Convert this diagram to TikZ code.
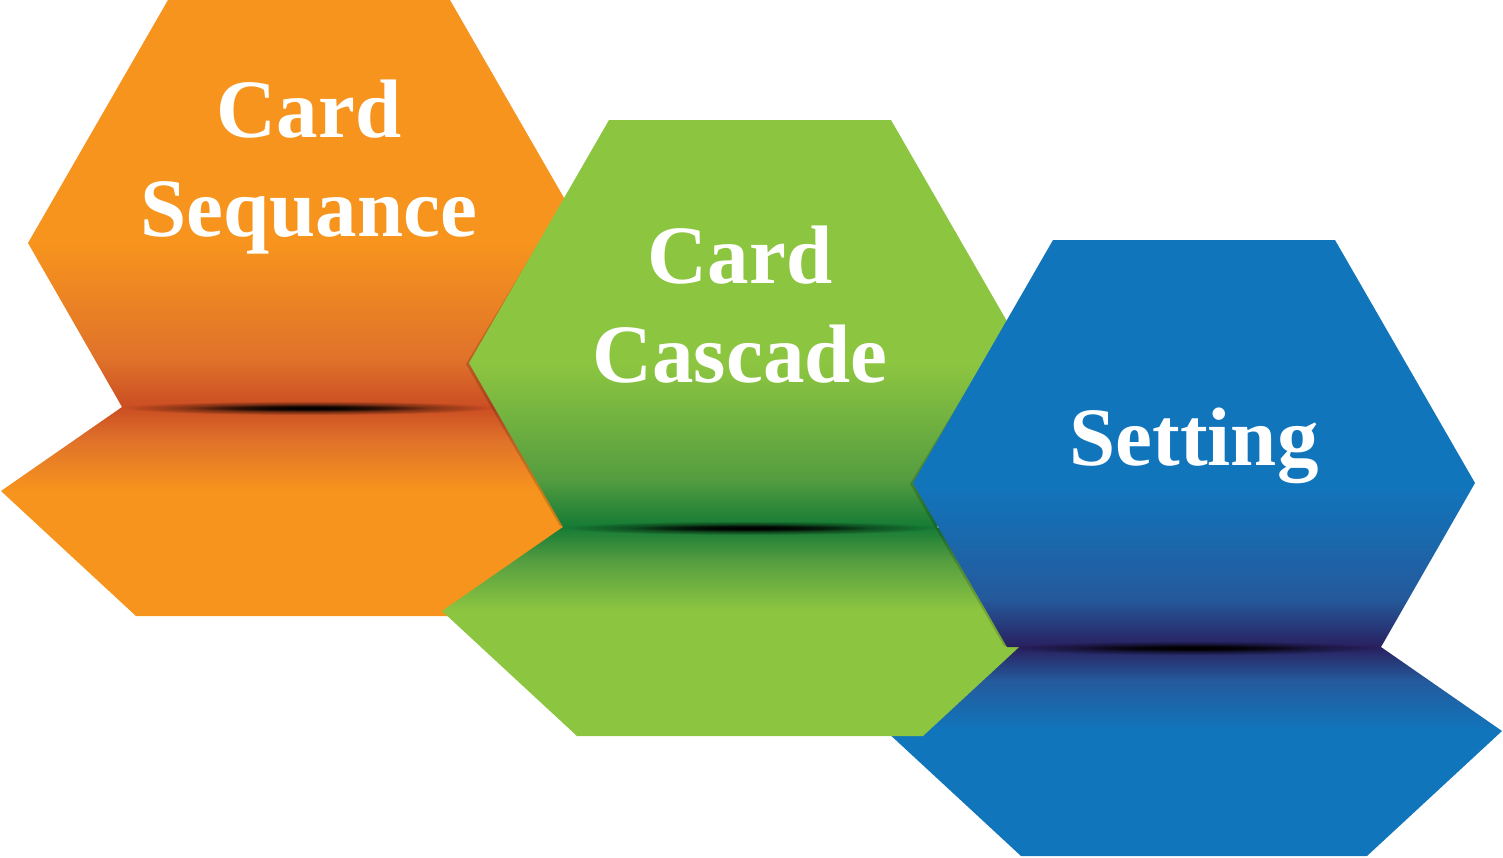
\documentclass[tikz,border=0pt]{standalone}
\usepackage{fontspec}
\setmainfont{Liberation Serif}
\usetikzlibrary{fadings}

\definecolor{seqlight}{HTML}{F7941D}
\definecolor{seqmid}{HTML}{E0722A}
\definecolor{seqdark}{HTML}{CB4E23}
\definecolor{caslight}{HTML}{8CC540}
\definecolor{casmid}{HTML}{559D40}
\definecolor{casdark}{HTML}{157B35}
\definecolor{setlight}{HTML}{1175BC}
\definecolor{setmid}{HTML}{245A9C}
\definecolor{setdark}{HTML}{29205F}

\pgfdeclareverticalshading[hexlight,hexmid,hexdark]{hexupper}{100bp}{color(0bp)=(hexdark); color(25bp)=(hexdark); color(31bp)=(hexmid); color(45bp)=(hexlight); color(100bp)=(hexlight)}
\pgfdeclareverticalshading[hexlight,hexmid,hexdark]{hexlower}{100bp}{color(0bp)=(hexlight); color(55bp)=(hexlight); color(67bp)=(hexmid); color(75bp)=(hexdark); color(100bp)=(hexdark)}
\tikzfading[name=foldfade, inner color=transparent!0, outer color=transparent!100]

\tikzset{
  hexlabel/.style={text=white, align=center, font=\bfseries\fontsize{41.5}{49.5}\selectfont},
  foldline/.style={fill=black, path fading=foldfade}
}

\begin{document}
\begin{tikzpicture}[x=0.5pt,y=-0.5pt]
      \useasboundingbox (0,0) rectangle (1503,857);
      % folded lower halves
      \foreach \cx/\ty/\hue in {309/0/seq, 1194/240/set, 750/120/cas}{
        \colorlet{hexlight}{\hue light}
        \colorlet{hexmid}{\hue mid}
        \colorlet{hexdark}{\hue dark}
        \shade[shading=hexlower] ({\cx-187},{\ty+407}) -- ({\cx-308},{\ty+491}) -- ({\cx-173},{\ty+616})
          -- ({\cx+173},{\ty+616}) -- ({\cx+308},{\ty+491}) -- ({\cx+187},{\ty+407}) -- cycle;
      }
      % upper halves
      \foreach \cx/\ty/\hue/\sh in {309/0/seq/0, 750/120/cas/0.16, 1194/240/set/0.16}{
        \colorlet{hexlight}{\hue light}
        \colorlet{hexmid}{\hue mid}
        \colorlet{hexdark}{\hue dark}
        \fill[black, opacity=\sh] ({\cx-189},{\ty+86}) -- ({\cx-284},{\ty+244}) -- ({\cx-190},{\ty+406})
          -- ({\cx-100},{\ty+406}) -- ({\cx-100},{\ty+86}) -- cycle;
        \shade[shading=hexupper] ({\cx-141},{\ty}) -- ({\cx+141},{\ty}) -- ({\cx+281},{\ty+243})
          -- ({\cx+187},{\ty+407}) -- ({\cx-187},{\ty+407}) -- ({\cx-281},{\ty+243}) -- cycle;
      }
      % shadows on the folds
      \foreach \cx/\ty in {309/0, 750/120, 1194/240}{
        \fill[foldline] ({\cx},{\ty+408}) ellipse [x radius=185, y radius=7];
        \fill[foldline] ({\cx},{\ty+408}) ellipse [x radius=120, y radius=3.5];
      }
      \node[hexlabel] (sequance) at (309,167) {Card\\Sequance};
      \node[hexlabel] (cascade) at (740,305) {Card\\Cascade};
      \node[hexlabel] (setting) at (1194,446) {Setting};
    \end{tikzpicture}
\end{document}
